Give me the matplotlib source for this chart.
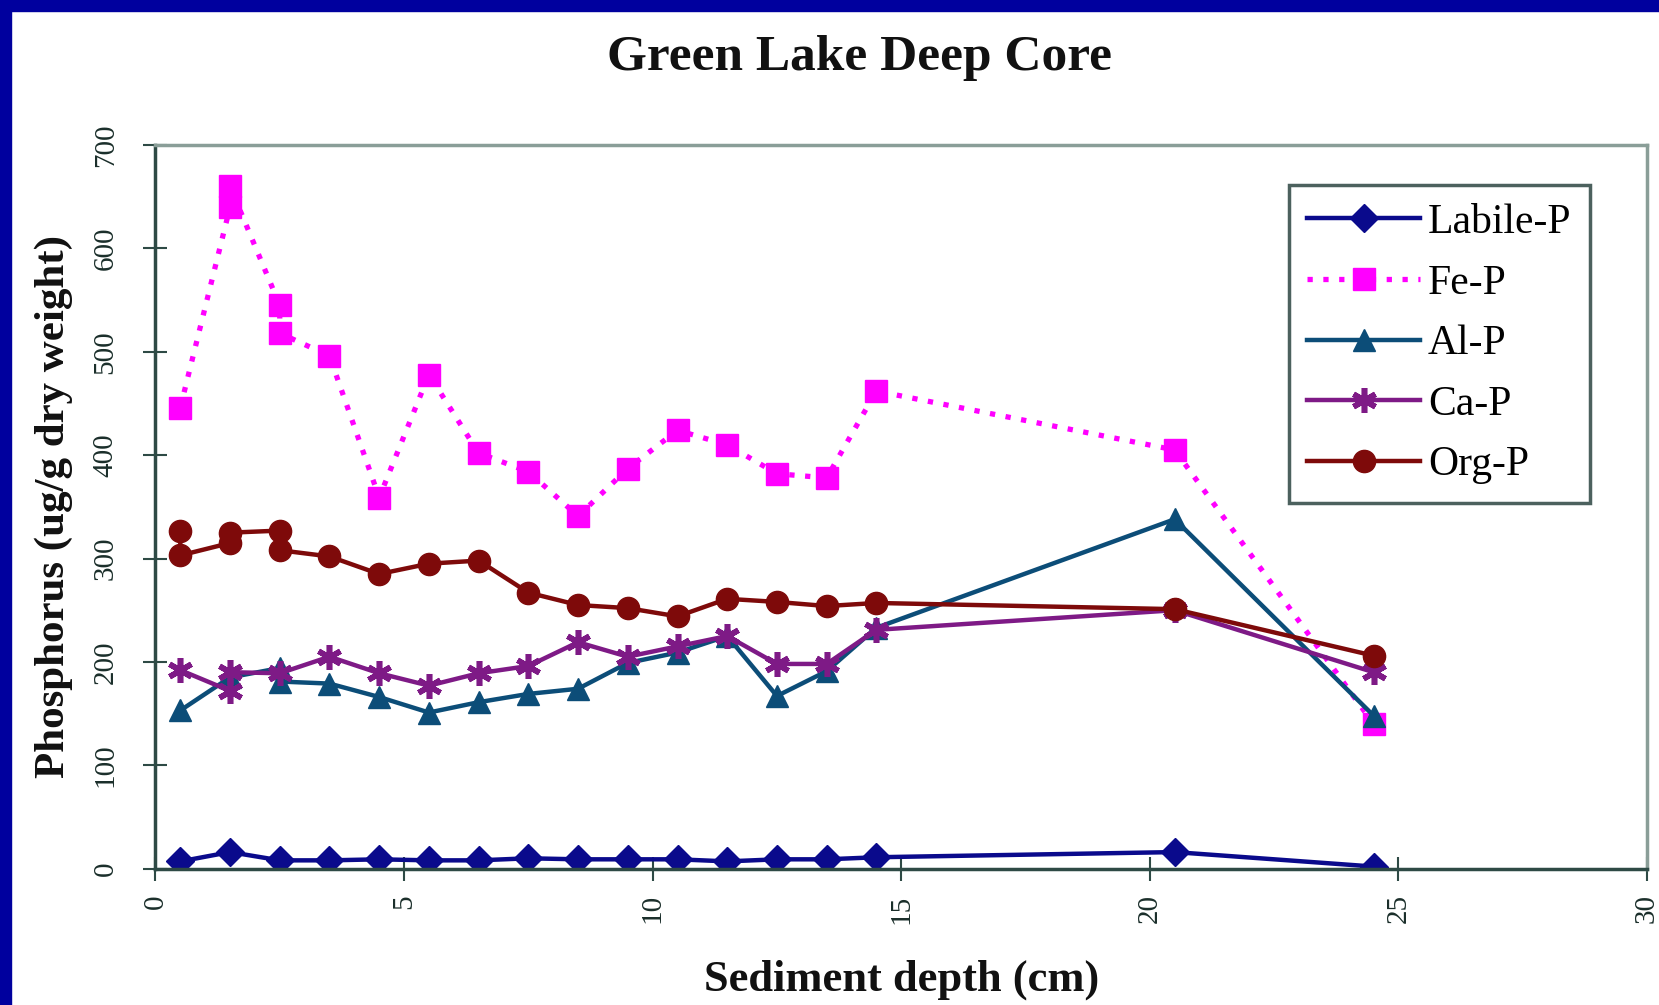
import matplotlib
matplotlib.use('Agg')
import matplotlib.pyplot as plt

# sediment depths (cm) and phosphorus fractions (ug/g dry weight)
x_lab = [0.5, 1.5, 2.5, 3.5, 4.5, 5.5, 6.5, 7.5, 8.5, 9.5, 10.5, 11.5, 12.5, 13.5, 14.5, 20.5, 24.5]
labile = [7, 16, 8, 8, 9, 8, 8, 10, 9, 9, 9, 7, 9, 9, 11, 16, 2]

x_fe = [0.5, 1.5, 1.5, 2.5, 2.5, 3.5, 4.5, 5.5, 6.5, 7.5, 8.5, 9.5, 10.5, 11.5, 12.5, 13.5, 14.5, 20.5, 24.5]
fe = [446, 640, 660, 545, 518, 496, 359, 478, 402, 384, 341, 387, 424, 410, 382, 378, 462, 405, 140]

x_al = [0.5, 1.5, 2.5, 2.5, 3.5, 4.5, 5.5, 6.5, 7.5, 8.5, 9.5, 10.5, 11.5, 12.5, 13.5, 14.5, 20.5, 24.5]
al = [153, 185, 194, 181, 179, 166, 151, 161, 169, 174, 199, 209, 225, 167, 191, 233, 338, 148]

x_ca = [0.5, 1.5, 1.5, 2.5, 3.5, 4.5, 5.5, 6.5, 7.5, 8.5, 9.5, 10.5, 11.5, 12.5, 13.5, 14.5, 20.5, 24.5]
ca = [192, 172, 190, 189, 205, 189, 177, 189, 196, 219, 205, 215, 225, 198, 198, 231, 250, 190]

x_org = [0.5, 0.5, 1.5, 1.5, 2.5, 2.5, 3.5, 4.5, 5.5, 6.5, 7.5, 8.5, 9.5, 10.5, 11.5, 12.5, 13.5, 14.5, 20.5, 24.5]
org = [327, 303, 315, 325, 327, 308, 302, 285, 295, 298, 267, 255, 252, 244, 261, 258, 254, 257, 251, 206]

x_ticks = [0, 5, 10, 15, 20, 25, 30]
y_ticks = [0, 100, 200, 300, 400, 500, 600, 700]

plt.rcParams['font.family'] = ['Liberation Serif', 'DejaVu Serif']

fig = plt.figure(figsize=(16.59, 10.05), dpi=100)
fig.patch.set_facecolor('white')

# navy frame along top and left edge
fig.patches.append(plt.Rectangle((0, 1 - 11 / 1005), 1, 11 / 1005, transform=fig.transFigure,
                                 color='#00009E', zorder=0))
fig.patches.append(plt.Rectangle((0, 0), 11 / 1659, 1, transform=fig.transFigure,
                                 color='#00009E', zorder=0))

ax = fig.add_axes([0.0937, 0.1357, 0.8991, 0.72])

ax.plot(x_lab, labile, color='#0A0A8C', lw=3.2, marker='D', ms=14, label='Labile-P')
ax.plot(x_fe, fe, color='#FF00FF', lw=3.8, ls=(0, (1, 2.0)), marker='s', ms=16,
        label='Fe-P')
ax.plot(x_al, al, color='#0C4D78', lw=3.2, marker='^', ms=16, label='Al-P')
ax.plot(x_ca, ca, color='#7E1A86', lw=3.2, marker=(6, 2, 0), ms=18, mew=4, label='Ca-P')
ax.plot(x_org, org, color='#7E0A0A', lw=3.2, marker='o', ms=16, label='Org-P')

ax.set_xlim(0, 30)
ax.set_ylim(0, 700)
ax.set_xticks(x_ticks)
ax.set_yticks(y_ticks)
ax.tick_params(direction='inout', length=17, width=1.5, colors='#2E4A45',
               labelsize=21, labelcolor='#1A2E2A', labelrotation=90)
ax.tick_params(axis='x', pad=10)
ax.tick_params(axis='y', pad=18)
for lab in ax.get_yticklabels():
    lab.set_va('center')

for s in ['left', 'bottom']:
    ax.spines[s].set_color('#2E4A45')
    ax.spines[s].set_linewidth(2.5)
for s in ['top', 'right']:
    ax.spines[s].set_color('#8A9E98')
    ax.spines[s].set_linewidth(2.5)

ax.set_xlabel('Sediment depth (cm)', fontsize=32, fontweight='bold', color='#111', labelpad=26)
ax.set_ylabel('Phosphorus (ug/g dry weight)', fontsize=31, fontweight='bold', color='#111',
              labelpad=14)
fig.text(0.518, 0.942, 'Green Lake Deep Core', ha='center', va='center', fontsize=37,
         fontweight='bold', color='#111')

leg = ax.legend(loc='upper right', bbox_to_anchor=(0.962, 0.945), fontsize=30,
                frameon=True, fancybox=False, handlelength=2.7, labelspacing=0.53,
                borderpad=0.45, handletextpad=0.2, borderaxespad=0)
leg.get_frame().set_edgecolor('#1F3A36')
leg.get_frame().set_linewidth(2.5)

fig.savefig('out.png', dpi=100)
